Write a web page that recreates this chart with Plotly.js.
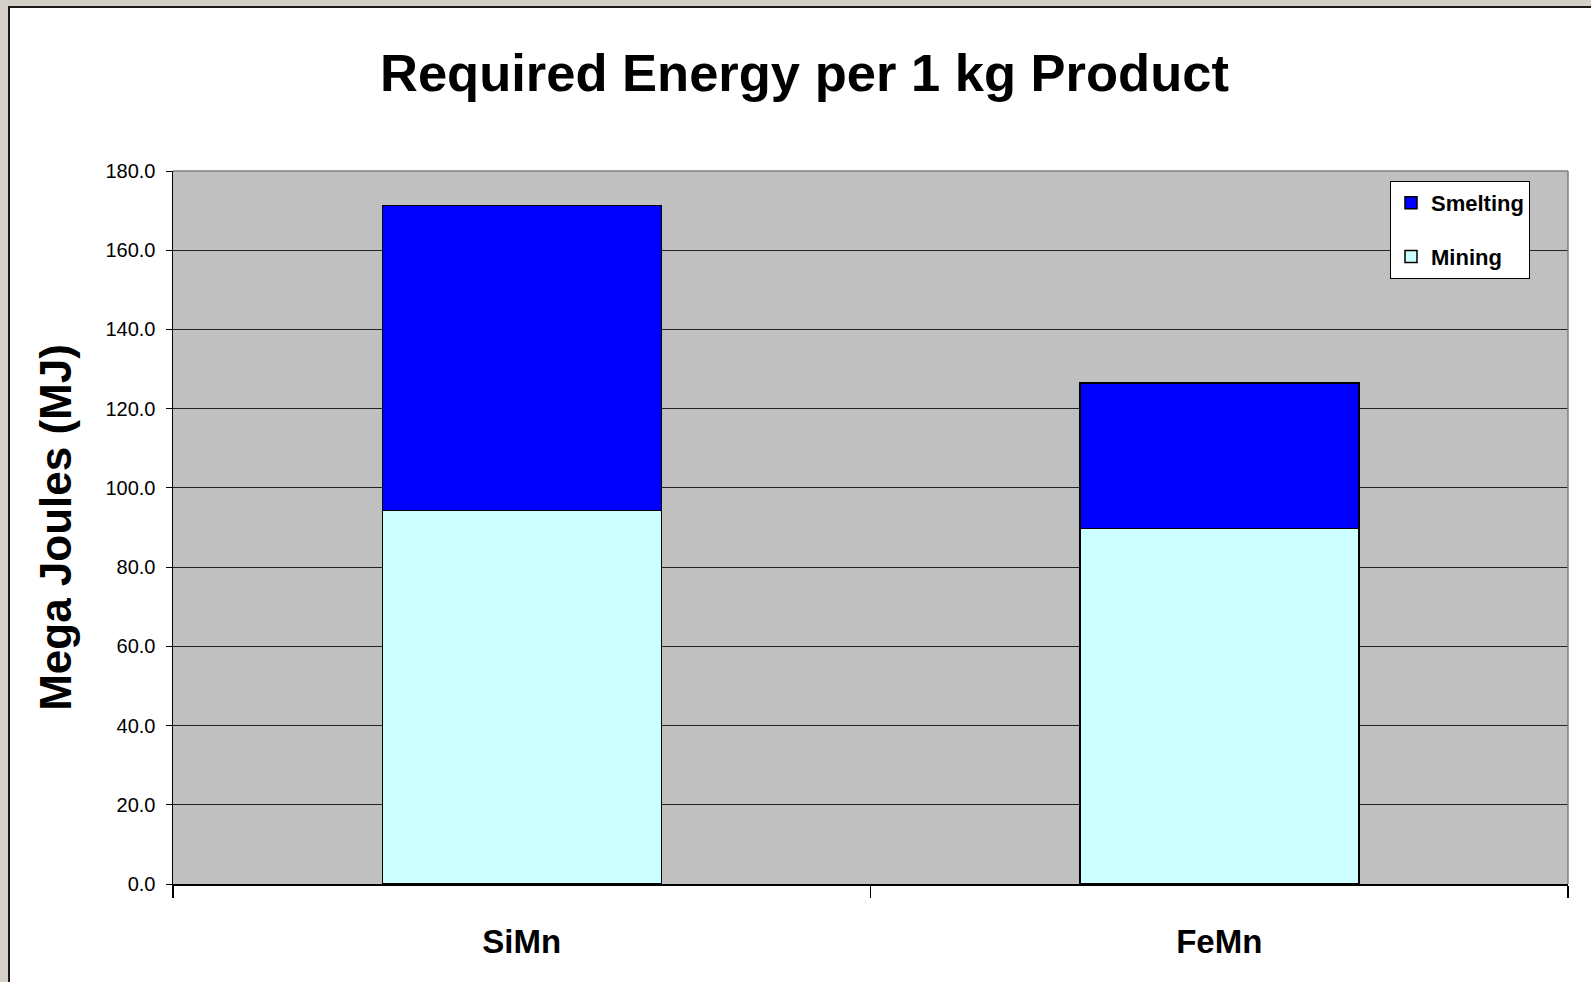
<!DOCTYPE html>
<html>
<head>
<meta charset="utf-8">
<script src="https://cdn.plot.ly/plotly-3.0.1.min.js"></script>
<style>
  html, body { margin: 0; padding: 0; background: #d4d0c8; overflow: hidden; }
  #frame {
    position: absolute; left: 8px; top: 6px;
    width: 1583px; height: 976px;
    border-left: 2px solid #1a1a1a; border-top: 2px solid #1a1a1a;
    background: #ffffff;
  }
  #chart { width: 1581px; height: 974px; }
</style>
</head>
<body>
<div id="frame"><div id="chart"></div></div>
<script>
// Energy needed per kg of alloy, split by process stage (MJ)
const products = ['SiMn', 'FeMn'];
const mining = [94.3, 89.7];
const smelting = [77.0, 36.8];

const font = 'Liberation Sans, Arial, sans-serif';
const barLine = { color: '#000000', width: 1.5 };

const traces = [
  {
    type: 'bar', name: 'Mining', x: products, y: mining,
    marker: { color: '#ccffff', line: barLine },
    legendgroup: 'mining', legendrank: 2, hoverinfo: 'x+y+name'
  },
  {
    type: 'bar', name: 'Smelting', x: products, y: smelting,
    marker: { color: '#0000ff', line: barLine },
    legendgroup: 'smelting', legendrank: 1, hoverinfo: 'x+y+name'
  }
];

const layout = {
  width: 1581, height: 974,
  margin: { l: 163, r: 23, t: 163, b: 98 },
  paper_bgcolor: '#ffffff',
  plot_bgcolor: '#c0c0c0',
  barmode: 'stack',
  bargap: 0.6,
  showlegend: true,
  font: { family: font, color: '#000000' },
  title: {
    text: '<b>Required Energy per 1 kg Product</b>',
    font: { family: font, size: 52.5, color: '#000000' },
    xref: 'container', yref: 'container',
    x: 0.5025, xanchor: 'center',
    y: 0.934, yanchor: 'middle'
  },
  xaxis: {
    type: 'category',
    tickson: 'boundaries',
    ticks: 'outside', ticklen: 12, tickwidth: 1.5, tickcolor: '#000000',
    showline: true, linecolor: '#000000', linewidth: 1.5,
    showgrid: false, zeroline: false,
    tickfont: { family: font, size: 33, color: '#000000', weight: 'bold' },
    ticklabelstandoff: 28,
    fixedrange: true
  },
  yaxis: {
    range: [0, 180], dtick: 20, tickformat: '.1f',
    ticks: 'outside', ticklen: 6, tickwidth: 1, tickcolor: '#000000',
    showline: true, linecolor: '#000000', linewidth: 1.5,
    showgrid: true, gridcolor: '#222222', gridwidth: 1,
    zeroline: false,
    tickfont: { family: font, size: 20, color: '#000000' },
    ticklabelstandoff: 6,
    automargin: false,
    title: {
      text: '<b>Mega Joules (MJ)</b>',
      font: { family: font, size: 44, color: '#000000' },
      standoff: 20
    },
    fixedrange: true
  },
  legend: {
    x: 0.8724, xanchor: 'left',
    y: 0.986, yanchor: 'top',
    bgcolor: '#ffffff', bordercolor: '#000000', borderwidth: 1,
    traceorder: 'grouped',
    tracegroupgap: 22,
    font: { family: font, size: 22, color: '#000000', weight: 'bold' },
    itemwidth: 30,
    entrywidth: 110
  },
  shapes: [
    // grey frame on the top and right of the plotting area
    { type: 'line', xref: 'paper', yref: 'paper', x0: 0, x1: 1, y0: 1, y1: 1,
      line: { color: '#808080', width: 1.5 } },
    { type: 'line', xref: 'paper', yref: 'paper', x0: 1, x1: 1, y0: 0, y1: 1,
      line: { color: '#808080', width: 1.5 } }
  ]
};

Plotly.newPlot('chart', traces, layout, { displayModeBar: false, staticPlot: true });
</script>
</body>
</html>
